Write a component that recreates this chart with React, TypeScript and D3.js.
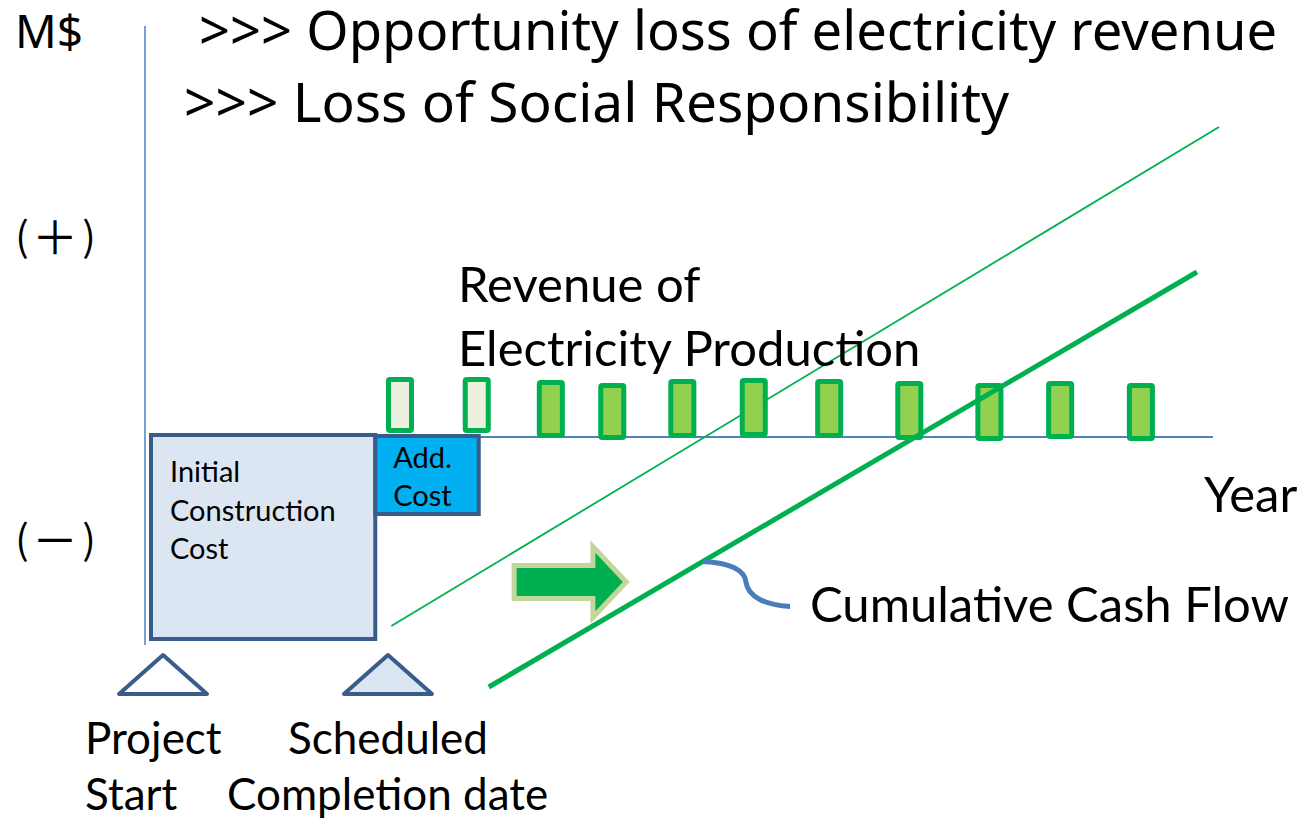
import * as d3 from 'd3';
import * as React from 'react';

const WIDTH = 1297;
const HEIGHT = 823;

// yearly revenue bars (centre year, bottom and height in M$)
const revenueYears = [3.82, 4.97, 6.08, 7.0, 8.05, 9.12, 10.25, 11.45, 12.65, 13.71, 14.92];
const revenueBase = [0.4, 0.4, -0.1, -0.3, -0.1, 0.0, -0.1, -0.3, -0.4, -0.2, -0.4];
const revenueValue = [5.6, 5.6, 5.8, 5.7, 5.9, 5.9, 5.9, 5.9, 5.8, 5.8, 5.8];
// the first two years fall inside the delay -> lost revenue
const revenueLost = [true, true, false, false, false, false, false, false, false, false, false];

// cost blocks below the axis
const costLabels = [['Initial', 'Construction', 'Cost'], ['Add.', 'Cost']];
const costStart = [0.09, 3.45];
const costEnd = [3.45, 5.0];
const costTop = [0.2, 0.1];
const costValue = [-20.4, -7.8];

// cumulative cash flow, planned vs delayed (year, M$)
const plannedCashFlow: [number, number][] = [[3.69, -18.9], [16.09, 31.0]];
const delayedCashFlow: [number, number][] = [[5.15, -25.0], [15.76, 16.5]];

const milestoneYears = [0.27, 3.64];
const milestoneLabels = [['Project', 'Start'], ['Scheduled', 'Completion date']];

const titleLines = ['>>> Opportunity loss of electricity revenue', '>>> Loss of Social Responsibility'];
const signLabels = ['＋', '－'];

const BAR_W = 0.42;
const GREEN = '#00b050';
const BOX_STROKE = '#385d8a';
const AXIS = '#4f81bd';
const LABEL_FONT = 'Lato, sans-serif';
const TITLE_FONT = '"Noto Sans", sans-serif';
const CJK_FONT = '"Noto Sans CJK JP", sans-serif';

const x = d3.scaleLinear().domain([0, 16]).range([145, 1213]);
const y = d3.scaleLinear().domain([-26, 42]).range([697, 17]);

const line = d3.line<[number, number]>().x(d => x(d[0])).y(d => y(d[1]));

function Arrow() {
  // shift arrow, from the scheduled line towards the delayed one
  const x0 = x(5.53), x1 = x(7.21), xh = x(6.71), cy = y(-14.5);
  const sh = 16.5, hh = 35.5;
  const d = `M${x0},${cy - sh}H${xh}V${cy - hh}L${x1},${cy}L${xh},${cy + hh}V${cy + sh}H${x0}Z`;
  return <path d={d} fill={GREEN} stroke='#c3d69b' strokeWidth={5} strokeLinejoin='miter' />;
}

function Callout() {
  const ax = x(8.36);
  const [[x0, y0], [x1, y1]] = delayedCashFlow;
  const ay = y(y0 + (8.36 - x0) * (y1 - y0) / (x1 - x0));
  const p = d3.path();
  p.moveTo(ax, ay);
  p.bezierCurveTo(ax + 27, ay + 1, ax + 42, ay + 9, ax + 43, ay + 21);
  p.bezierCurveTo(ax + 45, ay + 35, ax + 62, ay + 44, ax + 87, ay + 45);
  return <path d={p.toString()} fill='none' stroke='#4a7ebb' strokeWidth={5} />;
}

export default function App() {
  React.useEffect(() => {
    document.body.style.margin = '0';
  }, []);

  const sw = 5;
  return (
    <svg width={WIDTH} height={HEIGHT} style={{ position: 'absolute', left: 0, top: 0, background: '#fff' }}>
      {/* axes */}
      <line x1={x(0)} x2={x(0)} y1={y(41.1)} y2={y(-20.8)} stroke={AXIS} strokeWidth={1.5} />
      <line x1={x(3.45)} x2={x(16)} y1={y(0)} y2={y(0)} stroke={AXIS} strokeWidth={2} />

      {/* planned cumulative cash flow */}
      <path d={line(plannedCashFlow) || ''} stroke={GREEN} strokeWidth={1.8} fill='none' />

      {/* cost blocks */}
      {costLabels.map((lab, i) => (
        <g key={'c' + i}>
          <rect
            x={x(costStart[i])}
            y={y(costTop[i])}
            width={x(costEnd[i]) - x(costStart[i])}
            height={y(costTop[i] + costValue[i]) - y(costTop[i])}
            fill={i === 0 ? '#dce6f2' : '#00b0f0'}
            stroke={BOX_STROKE}
            strokeWidth={4}
          />
          {lab.map((t, j) => (
            <text
              key={j}
              x={x(costStart[i]) + (i === 0 ? 19 : 18)}
              y={i === 0 ? 482 + j * 38.5 : 468 + j * 37.5}
              fontFamily={LABEL_FONT}
              fontSize={29}
              fill='#000'
            >{t}</text>
          ))}
        </g>
      ))}

      {/* yearly revenue bars */}
      {revenueYears.map((yr, i) => {
        const top = y(revenueBase[i] + revenueValue[i]);
        const bottom = y(revenueBase[i]);
        return (
          <rect
            key={'b' + i}
            x={x(yr - BAR_W / 2) + sw / 2}
            y={top + sw / 2}
            width={x(yr + BAR_W / 2) - x(yr - BAR_W / 2) - sw}
            height={bottom - top - sw}
            fill={revenueLost[i] ? '#ebf1de' : '#92d050'}
            stroke={GREEN}
            strokeWidth={sw}
            rx={1.5}
          />
        );
      })}

      {/* delayed cumulative cash flow */}
      <path d={line(delayedCashFlow) || ''} stroke={GREEN} strokeWidth={5} fill='none' />

      <Arrow />
      <Callout />

      {/* milestones */}
      {milestoneYears.map((yr, i) => {
        const cx = x(yr);
        return (
          <path
            key={'m' + i}
            d={`M${cx},655L${cx + 44},694L${cx - 44},694Z`}
            fill={i === 0 ? '#fff' : '#dce6f2'}
            stroke={BOX_STROKE}
            strokeWidth={4}
            strokeLinejoin='round'
          />
        );
      })}
      <g fontFamily={LABEL_FONT} fontSize={44} fill='#000'>
        <text x={85} y={754}>{milestoneLabels[0][0]}</text>
        <text x={85} y={810}>{milestoneLabels[0][1]}</text>
        <text x={288} y={754}>{milestoneLabels[1][0]}</text>
        <text x={227} y={810}>{milestoneLabels[1][1]}</text>
      </g>
      <g fontFamily={LABEL_FONT} fontSize={49} fill='#000'>
        <text x={458} y={302}>Revenue of</text>
        <text x={458} y={366}>Electricity Production</text>
        <text x={1204} y={512}>Year</text>
        <text x={810} y={622}>Cumulative Cash Flow</text>
      </g>

      {/* titles */}
      <g fontFamily={TITLE_FONT} fontSize={55} fill='#000'>
        <text x={15} y={48} fontSize={46}>M$</text>
        <text x={199} y={50} fontSize={54.3}>{titleLines[0]}</text>
        <text x={184} y={122}>{titleLines[1]}</text>
      </g>

      {/* sign markers on the value axis */}
      {signLabels.map((s, i) => {
        const cy = i === 0 ? 234 : 537;
        return (
          <g key={'s' + i} fontFamily={CJK_FONT} fill='#000' textAnchor='middle' dominantBaseline='central'>
            <text x={22} y={cy} fontSize={40}>(</text>
            <text x={55} y={cy} fontSize={46}>{s}</text>
            <text x={89} y={cy} fontSize={40}>)</text>
          </g>
        );
      })}
    </svg>
  );
}
